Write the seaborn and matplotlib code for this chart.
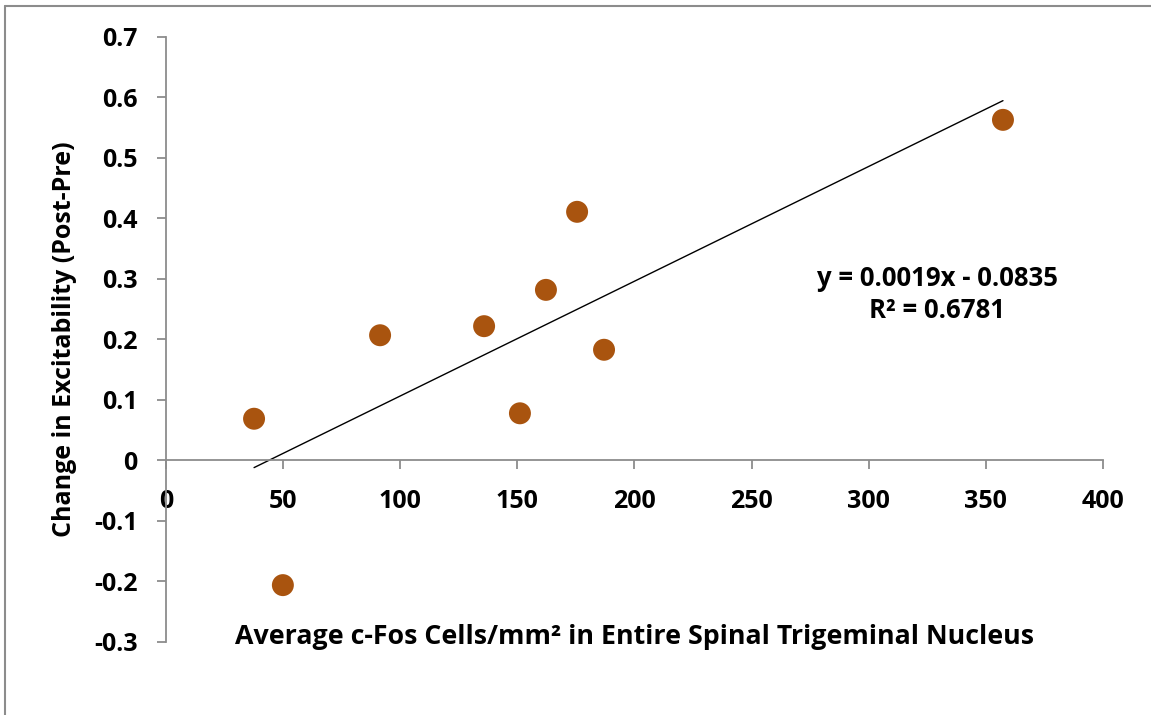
import numpy as np
import pandas as pd
import seaborn as sns
import matplotlib.pyplot as plt
from matplotlib.lines import Line2D

# Data
cfos_cells = [37.6, 49.9, 91.4, 135.8, 151.1, 162.2, 175.5, 187.0, 357.3]
excitability_change = [0.069, -0.206, 0.207, 0.222, 0.078, 0.282, 0.411, 0.183, 0.563]
x_ticks = [0, 50, 100, 150, 200, 250, 300, 350, 400]
y_ticks = [-0.3, -0.2, -0.1, 0, 0.1, 0.2, 0.3, 0.4, 0.5, 0.6, 0.7]
y_tick_labels = ['-0.3', '-0.2', '-0.1', '0', '0.1', '0.2', '0.3', '0.4', '0.5', '0.6', '0.7']
equation_text = "y = 0.0019x - 0.0835\nR² = 0.6781"

df = pd.DataFrame({'cfos': cfos_cells, 'change': excitability_change})

sns.set_style('white')
plt.rcParams['font.family'] = ['Open Sans', 'DejaVu Sans']
plt.rcParams['font.weight'] = 'bold'
plt.rcParams['text.color'] = 'black'
plt.rcParams['axes.labelcolor'] = 'black'
plt.rcParams['xtick.labelcolor'] = 'black'
plt.rcParams['ytick.labelcolor'] = 'black'

fig = plt.figure(figsize=(11.51, 7.15), dpi=100)
ax = fig.add_axes([0.1442, 0.1021, 0.8141, 0.8462])

axis_gray = '#8c8c8c'
point_color = '#A9540F'

# Linear trendline over the data range
sns.regplot(data=df, x='cfos', y='change', ax=ax, scatter=False, ci=None,
            truncate=True, line_kws={'color': 'black', 'linewidth': 1.0})
sns.scatterplot(data=df, x='cfos', y='change', ax=ax, s=250,
                color=point_color, edgecolor='none', zorder=3)

ax.set_xlim(0, 400)
ax.set_ylim(-0.3, 0.7)
ax.set_xticks(x_ticks)
ax.set_yticks(y_ticks)
ax.set_yticklabels(y_tick_labels)

# Excel-like axes: x axis crossing at y = 0
ax.spines['top'].set_visible(False)
ax.spines['right'].set_visible(False)
ax.spines['bottom'].set_position(('data', 0))
for side in ['left', 'bottom']:
    ax.spines[side].set_color(axis_gray)
    ax.spines[side].set_linewidth(1.3)
ax.tick_params(axis='both', direction='out', length=6.5, width=1.3,
               color=axis_gray, labelcolor='black', labelsize=18, pad=14,
               bottom=True, left=True)
for lbl in ax.get_xticklabels() + ax.get_yticklabels():
    lbl.set_fontweight('bold')

ax.set_xlabel("Average c-Fos Cells/mm² in Entire Spinal Trigeminal Nucleus",
              fontsize=19.3, fontweight='bold', color='black')
ax.xaxis.set_label_coords(0.5, 0.03)
ax.set_ylabel("Change in Excitability (Post-Pre)", fontsize=18,
              fontweight='bold', color='black')
ax.yaxis.set_label_coords(-0.095, 0.5)

ax.text(0.823, 0.574, equation_text, transform=ax.transAxes, ha='center',
        va='center', fontsize=18.5, fontweight='bold', linespacing=1.25,
        color='black')

# Chart-area border (top and left edges visible)
fig.add_artist(Line2D([4.5 / 1151, 1], [1 - 5.5 / 715, 1 - 5.5 / 715],
                      color=axis_gray, linewidth=1.5, transform=fig.transFigure))
fig.add_artist(Line2D([4.5 / 1151, 4.5 / 1151], [0, 1 - 5.5 / 715],
                      color=axis_gray, linewidth=1.5, transform=fig.transFigure))

fig.savefig('out.png', dpi=100)
